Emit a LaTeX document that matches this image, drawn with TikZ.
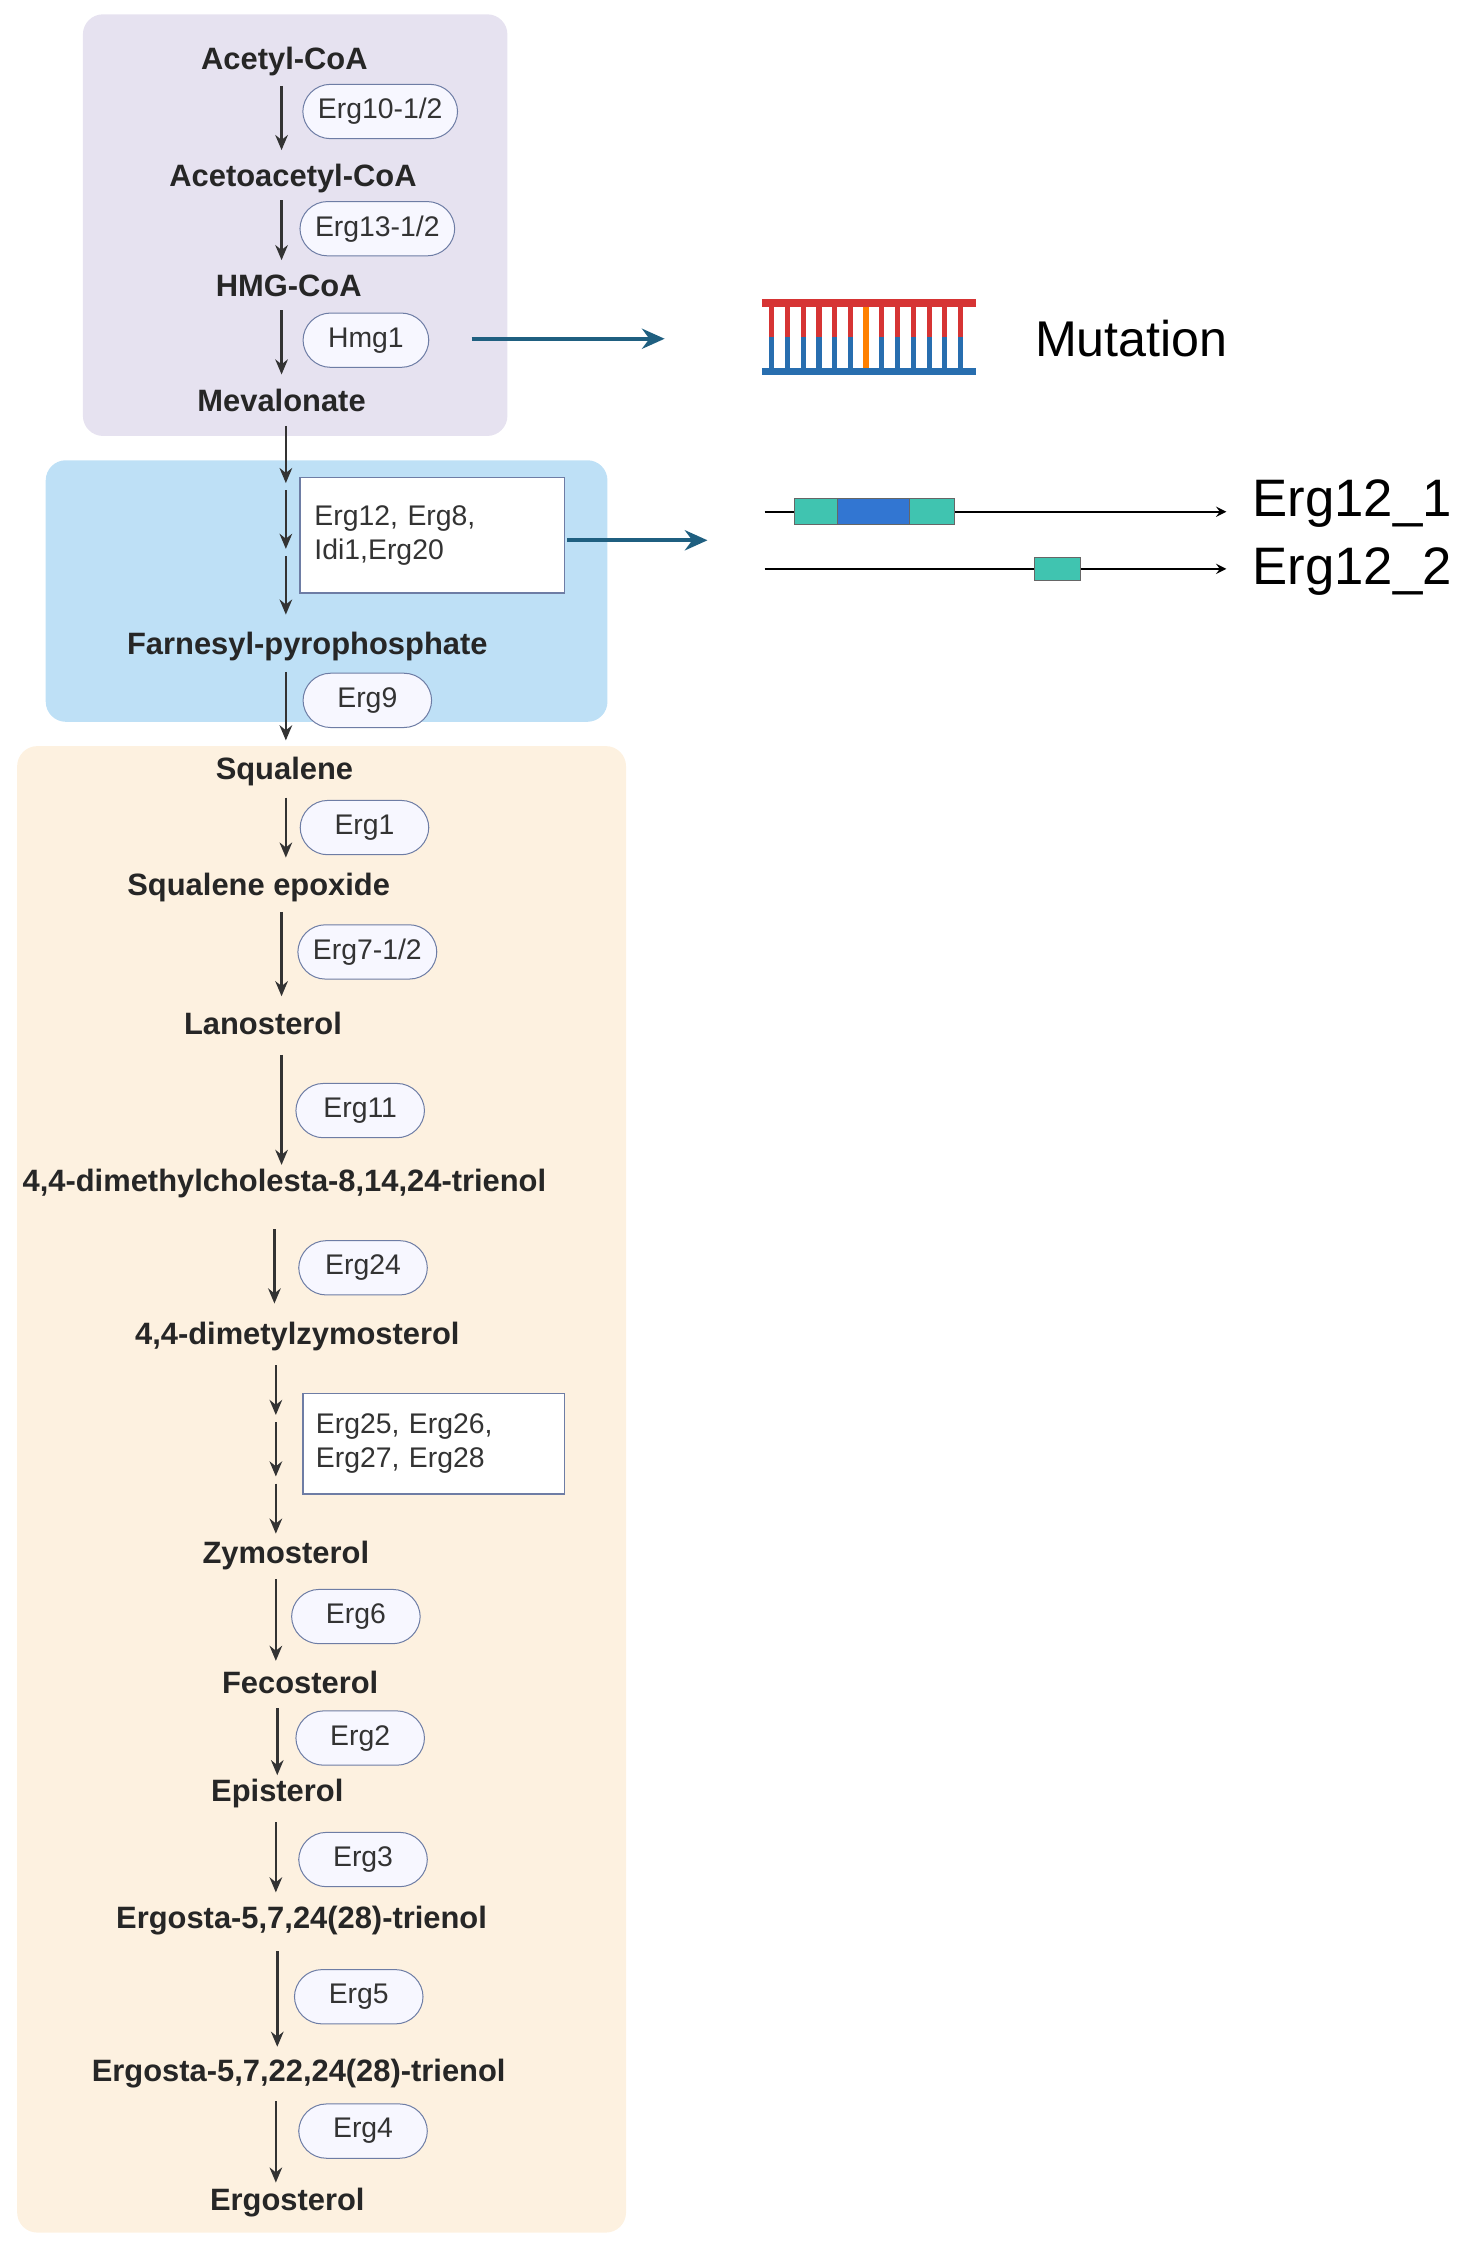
\documentclass[tikz,border=0pt]{standalone}
\usepackage{fontspec}
\setmainfont{Liberation Sans}
\usetikzlibrary{arrows.meta}
\definecolor{dnared}{RGB}{214,52,52}
\definecolor{dnablue}{RGB}{40,110,175}
\definecolor{arrowteal}{RGB}{31,95,128}
\definecolor{teal1}{RGB}{64,196,176}
\definecolor{blue1}{RGB}{50,118,210}
\definecolor{bgpurple}{RGB}{230,226,240}
\definecolor{bgblue}{RGB}{190,224,246}
\definecolor{bgorange}{RGB}{253,241,224}
\definecolor{pillborder}{RGB}{110,125,165}
\begin{document}
\begin{tikzpicture}[x=0.02cm,y=-0.02cm,
 met/.style={font=\bfseries\fontsize{12.3}{14}\selectfont, text=black!85},
 enz/.style={draw=pillborder, fill=blue!3, rounded corners=11pt, minimum height=0.76cm, inner xsep=6pt, font=\fontsize{11.3}{13}\selectfont, text=black!80},
 ebox/.style={draw=pillborder, fill=white, line width=0.7pt, align=left, font=\fontsize{11.3}{13.5}\selectfont, text=black!80},
 ar/.style={-{Stealth[length=6pt,width=5pt]}, line width=1pt, black!80},
 big/.style={-{Stealth[length=9pt,width=8pt]}, line width=1.6pt, arrowteal}]
\useasboundingbox (0,0) rectangle (1034,1570);
\fill[rounded corners=8pt,bgpurple] (58,10) rectangle (355,305);
\fill[rounded corners=8pt,bgblue] (32,322) rectangle (425,505);
\fill[rounded corners=8pt,bgorange] (12,522) rectangle (438,1562);
% metabolites
\node[met] (m1) at (199,43) {Acetyl-CoA};
\node[met] (m2) at (205,125) {Acetoacetyl-CoA};
\node[met] (m3) at (202,200) {HMG-CoA};
\node[met] (m4) at (197,280) {Mevalonate};
\node[met] (m5) at (215,452) {Farnesyl-pyrophosphate};
\node[met] (m6) at (199,540) {Squalene};
\node[met] (m7) at (181,621) {Squalene epoxide};
\node[met] (m8) at (184,716) {Lanosterol};
\node[met] (m9) at (199,828) {4,4-dimethylcholesta-8,14,24-trienol};
\node[met] (m10) at (208,935) {4,4-dimetylzymosterol};
\node[met] (m11) at (200,1088) {Zymosterol};
\node[met] (m12) at (210,1177) {Fecosterol};
\node[met] (m13) at (194,1255) {Episterol};
\node[met] (m14) at (211,1344) {Ergosta-5,7,24(28)-trienol};
\node[met] (m15) at (209,1451) {Ergosta-5,7,22,24(28)-trienol};
\node[met] (m16) at (201,1541) {Ergosterol};
% enzymes
\node[enz] (e1) at (266,78) {Erg10-1/2};
\node[enz] (e2) at (264,160) {Erg13-1/2};
\node[enz,minimum width=1.76cm] (e3) at (256,238) {Hmg1};
\node[enz,minimum width=1.8cm] (e4) at (257,490) {Erg9};
\node[enz,minimum width=1.8cm] (e5) at (255,579) {Erg1};
\node[enz] (e6) at (257,666) {Erg7-1/2};
\node[enz,minimum width=1.8cm] (e7) at (252,777) {Erg11};
\node[enz,minimum width=1.8cm] (e8) at (254,887) {Erg24};
\node[enz,minimum width=1.8cm] (e9) at (249,1131) {Erg6};
\node[enz,minimum width=1.8cm] (e10) at (252,1216) {Erg2};
\node[enz,minimum width=1.8cm] (e11) at (254,1301) {Erg3};
\node[enz,minimum width=1.8cm] (e12) at (251,1397) {Erg5};
\node[enz,minimum width=1.8cm] (e13) at (254,1491) {Erg4};
\node[ebox,minimum width=3.7cm,minimum height=1.62cm,text width=3.3cm] (b1) at (302.5,374.5) {Erg12, Erg8,\\Idi1,Erg20};
\node[ebox,minimum width=3.66cm,minimum height=1.4cm,text width=3.3cm] (b2) at (303.5,1010) {Erg25, Erg26,\\Erg27, Erg28};
% arrows
\coordinate (a1) at (197,60); \coordinate (a2) at (197,105); \draw[ar] (a1)--(a2);
\coordinate (a3) at (197,140); \coordinate (a4) at (197,182); \draw[ar] (a3)--(a4);
\coordinate (a5) at (197,217); \coordinate (a6) at (197,262); \draw[ar] (a5)--(a6);
\coordinate (b3) at (200,298); \coordinate (b4) at (200,338); \draw[ar] (b3)--(b4);
\coordinate (b5) at (200,343); \coordinate (b6) at (200,384); \draw[ar] (b5)--(b6);
\coordinate (b7) at (200,389); \coordinate (b8) at (200,430); \draw[ar] (b7)--(b8);
\coordinate (c1) at (200,470); \coordinate (c2) at (200,518); \draw[ar] (c1)--(c2);
\coordinate (c3) at (200,558); \coordinate (c4) at (200,600); \draw[ar] (c3)--(c4);
\coordinate (c5) at (197,638); \coordinate (c6) at (197,697); \draw[ar] (c5)--(c6);
\coordinate (c7) at (197,738); \coordinate (c8) at (197,815); \draw[ar] (c7)--(c8);
\coordinate (d1) at (192,860); \coordinate (d2) at (192,912); \draw[ar] (d1)--(d2);
\coordinate (d3) at (193,955); \coordinate (d4) at (193,990); \draw[ar] (d3)--(d4);
\coordinate (d5) at (193,995); \coordinate (d6) at (193,1033); \draw[ar] (d5)--(d6);
\coordinate (d7) at (193,1038); \coordinate (d8) at (193,1073); \draw[ar] (d7)--(d8);
\coordinate (f1) at (193,1105); \coordinate (f2) at (193,1162); \draw[ar] (f1)--(f2);
\coordinate (f3) at (194,1195); \coordinate (f4) at (194,1242); \draw[ar] (f3)--(f4);
\coordinate (f5) at (193,1275); \coordinate (f6) at (193,1324); \draw[ar] (f5)--(f6);
\coordinate (f7) at (194,1365); \coordinate (f8) at (194,1432); \draw[ar] (f7)--(f8);
\coordinate (f9) at (193,1470); \coordinate (f10) at (193,1527); \draw[ar] (f9)--(f10);
% right side
\coordinate (h0) at (330,237); \coordinate (h1) at (465,237); \draw[big] (h0) -- (h1);
\coordinate (h3) at (397,378); \coordinate (h2) at (495,378); \draw[big] (h3) -- (h2);
% DNA icon
\foreach \x in {540,551,...,676}{
  \draw[line width=2pt,dnared] (\x,212)--(\x,236);
  \draw[line width=2pt,dnablue] (\x,236)--(\x,260);}
\draw[line width=2.2pt,orange] (606,212)--(606,260);
\draw[line width=3pt,dnared] (533,212)--(683,212);
\draw[line width=3pt,dnablue] (533,260)--(683,260);
\node[font=\fontsize{20}{24}\selectfont,anchor=west] (mut) at (718,237) {Mutation};
% genes
\coordinate (g1) at (535,358); \coordinate (g2) at (858,358);
\draw[-stealth,line width=0.8pt] (g1)--(g2);
\coordinate (g3) at (535,398); \coordinate (g4) at (858,398);
\draw[-stealth,line width=0.8pt] (g3)--(g4);
\draw[fill=teal1,draw=black!60] (556,349) rectangle (668,367);
\draw[fill=blue1,draw=black!60] (586,349) rectangle (636,367);
\draw[fill=teal1,draw=black!60] (724,390) rectangle (756,406);
\node[font=\fontsize{21}{25}\selectfont,anchor=west] (n1) at (870,352) {Erg12\_1};
\node[font=\fontsize{21}{25}\selectfont,anchor=west] (n2) at (870,400) {Erg12\_2};
\end{tikzpicture}
\end{document}
